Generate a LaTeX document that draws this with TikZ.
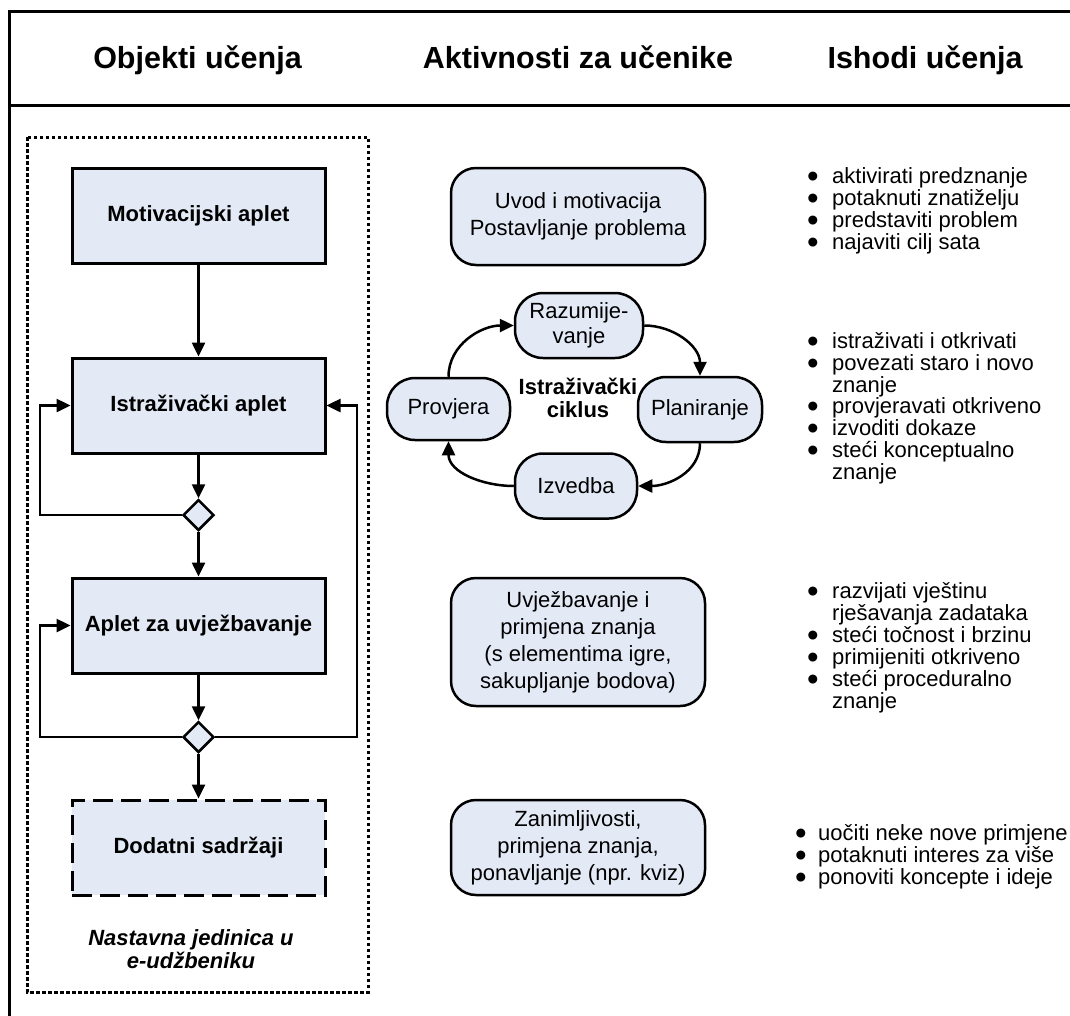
\documentclass[tikz,border=0pt]{standalone}
\usepackage{fontspec}
\setmainfont{Liberation Sans}
\usetikzlibrary{arrows.meta,shapes.geometric}
\definecolor{boxfill}{RGB}{227,234,246}
\newcommand\bul{\makebox[25pt][l]{\smash{\raisebox{-4.5pt}{\scalebox{1.5}{•}}}}}
\newcommand\bulb{\makebox[23pt][l]{\smash{\raisebox{-4.5pt}{\scalebox{1.5}{•}}}}}
\begin{document}
\begin{tikzpicture}[x=1pt,y=-1pt,
  every node/.style={inner sep=0pt},
  hdr/.style={font=\fontsize{30.5}{36}\selectfont\bfseries},
  appbox/.style={draw,line width=3pt,fill=boxfill,minimum width=253pt,minimum height=95pt,font=\fontsize{22}{26}\selectfont\bfseries},
  dodbox/.style={appbox,dash pattern=on 20pt off 8pt},
  actbox/.style={draw,line width=2.5pt,fill=boxfill,rounded corners=25pt,minimum width=254pt,align=center,font=\fontsize{22}{27}\selectfont},
  cycbox/.style={draw,line width=2.5pt,fill=boxfill,rounded corners=28pt,align=center,minimum height=64pt,font=\fontsize{22}{25}\selectfont},
  dec/.style={draw,line width=2.5pt,fill=boxfill,diamond,aspect=1,minimum size=31pt},
  arr/.style={line width=2.5pt,-{Triangle[length=14pt,width=13pt]}},
  outerline/.style={line width=3pt},
  blt/.style={anchor=base west,font=\fontsize{22}{22}\selectfont},
]
\useasboundingbox (0,0) rectangle (1070,1015);

% outer frame
\draw[outerline] (1072,11.5) -- (9,11.5) -- (9,1017);
\draw[outerline] (9,105.5) -- (1072,105.5);

% headers
\node[hdr,anchor=base] (h1) at (197.5,68) {Objekti učenja};
\node[hdr,anchor=base] (h2) at (578,68) {Aktivnosti za učenike};
\node[hdr,anchor=base] (h3) at (925,68) {Ishodi učenja};

% dotted frame of left column
\draw[line width=3pt,dash pattern=on 3.5pt off 2.5pt] (27,137) rectangle (368,992);

% left column flow
\node[appbox] (mot) at (198.5,216) {Motivacijski aplet};
\node[appbox] (ist) at (198.5,405.5) {Istraživački aplet};
\node[dec] (d1) at (198.5,515) {};
\node[appbox] (apl) at (198.5,625.5) {Aplet za uvježbavanje};
\node[dec] (d2) at (198.5,737) {};
\node[dodbox] (dod) at (198.5,847.5) {Dodatni sadržaji};
\node[anchor=north,align=center,font=\fontsize{22}{23}\selectfont\bfseries\itshape] (cap) at (191,929) {Nastavna jedinica u\\e-udžbeniku};

\coordinate (lx) at (40,0);
\coordinate (rx) at (357,0);

\draw[arr] (mot) -- (ist);
\draw[arr] (ist) -- (d1);
\draw[arr] (d1) -- (apl);
\draw[arr] (apl) -- (d2);
\draw[arr] (d2) -- (dod);
\draw[arr] (d1.west) -- (d1.west -| lx) |- (ist.west);
\draw[arr] (d2.west) -- (d2.west -| lx) |- (apl.west);
\draw[arr] (d2.east) -- (d2.east -| rx) |- (ist.east);

% activities
\node[actbox,minimum height=97pt] (uvod) at (578,216.5) {Uvod i motivacija\\Postavljanje problema};
\node[cycbox,minimum width=128pt,minimum height=65pt] (raz) at (579,325.5) {Razumije-\\vanje};
\node[cycbox,minimum width=123pt,minimum height=62pt] (prov) at (448.5,409) {Provjera};
\node[cycbox,minimum width=124pt,minimum height=65pt] (plan) at (700,409.5) {Planiranje};
\node[cycbox,minimum width=122pt,minimum height=65pt] (izv) at (576,486) {Izvedba};
\node[align=center,font=\fontsize{22}{23}\selectfont\bfseries] (cyc) at (578,398) {Istraživački\\ciklus};
\draw[arr] (prov.north) to[out=90,in=180] (raz.west);
\draw[arr] (raz.east) to[out=0,in=90] (plan.north);
\draw[arr] (plan.south) to[out=270,in=0] (izv.east);
\draw[arr] (izv.west) to[out=180,in=270] (prov.south);

\node[actbox,minimum height=128pt] (uvj) at (578,642) {Uvježbavanje i\\primjena znanja\\(s elementima igre,\\sakupljanje bodova)};
\node[actbox,minimum height=95pt] (zan) at (578,847.5) {Zanimljivosti,\\primjena znanja,\\ponavljanje (npr. kviz)};

% outcomes
\node[blt] (a1) at (807,183) {\bul aktivirati predznanje};
\node[blt] (a2) at (807,205) {\bul potaknuti znatiželju};
\node[blt] (a3) at (807,227) {\bul predstaviti problem};
\node[blt] (a4) at (807,249) {\bul najaviti cilj sata};

\node[blt] (b1) at (807,348) {\bul istraživati i otkrivati};
\node[blt] (b2) at (807,370) {\bul povezati staro i novo};
\node[blt] (b3) at (832,392) {znanje};
\node[blt] (b4) at (807,413) {\bul provjeravati otkriveno};
\node[blt] (b5) at (807,435) {\bul izvoditi dokaze};
\node[blt] (b6) at (807,457) {\bul steći konceptualno};
\node[blt] (b7) at (832,479) {znanje};

\node[blt] (c1) at (807,598) {\bul razvijati vještinu};
\node[blt] (c2) at (832,620) {rješavanja zadataka};
\node[blt] (c3) at (807,642) {\bul steći točnost i brzinu};
\node[blt] (c4) at (807,664) {\bul primijeniti otkriveno};
\node[blt] (c5) at (807,686) {\bul steći proceduralno};
\node[blt] (c6) at (832,708) {znanje};

\node[blt] (e1) at (795,840) {\bulb uočiti neke nove primjene};
\node[blt] (e2) at (795,862) {\bulb potaknuti interes za više};
\node[blt] (e3) at (795,884) {\bulb ponoviti koncepte i ideje};
\end{tikzpicture}
\end{document}
